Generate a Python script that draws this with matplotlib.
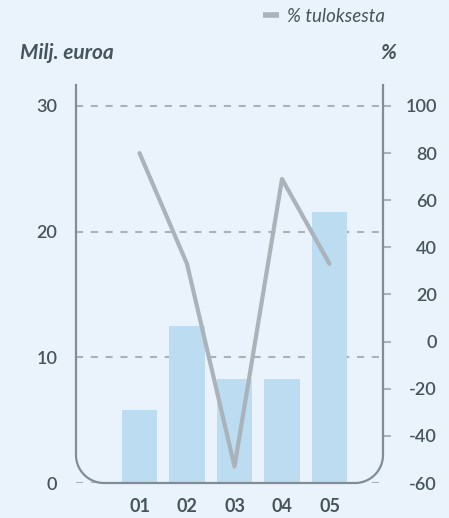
import matplotlib
matplotlib.use('Agg')
import matplotlib.pyplot as plt
import numpy as np

plt.rcParams['font.family'] = ['Lato', 'DejaVu Sans']
plt.rcParams['axes.unicode_minus'] = False

# data
years = ['01', '02', '03', '04', '05']
meur = [5.8, 12.5, 8.3, 8.3, 21.6]          # bars, left axis (Milj. euroa)
pct = [80, 33, -53, 69, 33]                  # line, right axis (% tuloksesta)
left_ticks = [0, 10, 20, 30]
right_ticks = [-60, -40, -20, 0, 20, 40, 60, 80, 100]

bg = '#eaf3fb'
bar_c = '#bcdcf2'
line_c = '#a9b3b9'
frame_c = '#7f8d96'
text_c = '#46545e'
grid_c = '#a9b2b9'

W, H = 449, 518
fig = plt.figure(figsize=(W / 100, H / 100), dpi=100, facecolor=bg)
ax = fig.add_axes([76 / W, 35 / H, 307 / W, 398 / H])
ax.set_facecolor(bg)

x = np.arange(len(years))
ax.bar(x, meur, width=0.74, color=bar_c, zorder=2)
ax.set_xlim(-1.337, 5.126)
ax.set_ylim(0, 31.67)
ax.set_yticks(left_ticks)
ax.set_xticks(x, years)
ax.grid(axis='y', color=grid_c, lw=1.5, linestyle=(0, (3.4, 3.7)), zorder=1)
ax.set_axisbelow(True)
ax.tick_params(axis='y', length=0, pad=13.5, labelsize=13, labelcolor=text_c)
ax.tick_params(axis='x', length=0, pad=11, labelsize=13, labelcolor=text_c)
for lab in ax.get_xticklabels():
    lab.set_fontweight('bold')
for lab in ax.get_yticklabels():
    lab.set_fontweight('semibold')
for s in ax.spines.values():
    s.set_visible(False)

ax2 = ax.twinx()
ax2.plot(x, pct, color=line_c, lw=3, solid_capstyle='round', label='% tuloksesta', zorder=3)
ax2.set_ylim(-60, 108.9)
ax2.set_yticks(right_ticks)
ax2.tick_params(axis='y', length=5.8, width=1.5, color=grid_c, pad=33,
                labelsize=13, labelcolor=text_c)
for lab in ax2.get_yticklabels():
    lab.set_horizontalalignment('right')
    lab.set_fontweight('semibold')
ax2.yaxis.get_major_ticks()[0].tick2line.set_visible(False)
for s in ax2.spines.values():
    s.set_visible(False)

# open frame with rounded bottom corners
r = 28
rx, ry = r / 307, r / 398
t1 = np.linspace(np.pi, 1.5 * np.pi, 30)
t2 = np.linspace(1.5 * np.pi, 2 * np.pi, 30)
fx = np.concatenate([[0], rx + rx * np.cos(t1), 1 - rx + rx * np.cos(t2), [1]])
fy = np.concatenate([[1], ry + ry * np.sin(t1), ry + ry * np.sin(t2), [1]])
ax2.plot(fx, fy, color=frame_c, lw=1.6, transform=ax2.transAxes, clip_on=False, zorder=5)

fig.text(20 / W, 1 - 53 / H, 'Milj. euroa', fontsize=15, fontweight='bold',
         fontstyle='italic', color=text_c, va='center', ha='left')
fig.text(396 / W, 1 - 53 / H, '%', fontsize=15, fontweight='bold',
         fontstyle='italic', color=text_c, va='center', ha='right')

leg = fig.legend(loc='center right', bbox_to_anchor=(385 / W, 1 - 16 / H), frameon=False,
                 handlelength=0.85, handletextpad=0.45, borderpad=0, borderaxespad=0,
                 prop={'size': 13.5, 'style': 'italic'})
for t in leg.get_texts():
    t.set_color(text_c)
for h in leg.legend_handles:
    h.set_linewidth(4)
    h.set_solid_capstyle('butt')

fig.savefig('out.png', dpi=100, facecolor=bg)
